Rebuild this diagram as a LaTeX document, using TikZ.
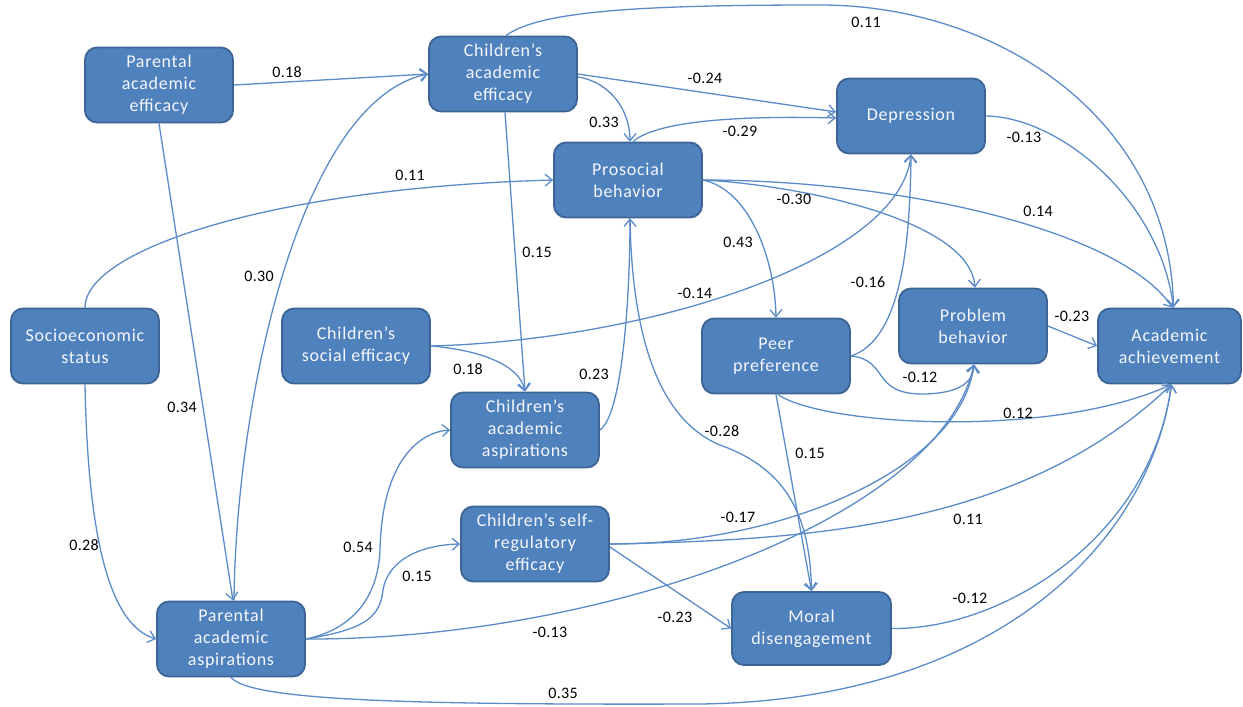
\documentclass[tikz,border=0pt]{standalone}
\usepackage{fontspec}
\setmainfont{Carlito}
\newfontfamily\boxfont[LetterSpace=4]{Carlito}
\newfontfamily\lblfont[LetterSpace=2]{Carlito}
\usetikzlibrary{arrows.meta}
\definecolor{boxfill}{HTML}{4F81BD}
\definecolor{boxline}{HTML}{3C6494}
\definecolor{edgecol}{HTML}{5B8CC8}
\definecolor{boxtext}{HTML}{F4F7FC}
\begin{document}
\begin{tikzpicture}[x=1pt,y=-1pt,
  box/.style={draw=boxline, line width=1.8pt, fill=boxfill, rounded corners=12pt,
    minimum width=148pt, minimum height=75pt, inner sep=0pt, align=center,
    text=boxtext, font=\boxfont\fontsize{18}{22}\selectfont},
  lbl/.style={font=\lblfont\fontsize{16}{18}\selectfont, text=black, inner sep=0pt},
  arr/.style={draw=edgecol, line width=1.3pt, -{Straight Barb[length=7pt,width=12pt]}}
]
\useasboundingbox[fill=white] (0,0) rectangle (1243,707);

% nodes
\node[box] (PAE) at (159,85) {Parental\\academic\\efficacy};
\node[box] (CAE) at (503,74) {Children’s\\academic\\efficacy};
\node[box] (PB)  at (628,180) {Prosocial\\behavior};
\node[box] (DEP) at (911,116) {Depression};
\node[box] (SES) at (85,346) {Socioeconomic\\status};
\node[box] (CSE) at (356,346) {Children’s\\social efficacy};
\node[box] (CAA) at (525,430) {Children’s\\academic\\aspirations};
\node[box] (PP)  at (776,356) {Peer\\preference};
\node[box] (PRB) at (973,326) {Problem\\behavior};
\node[box, minimum width=143pt] (AA) at (1169.5,346) {Academic\\achievement};
\node[box] (PAA) at (231,639) {Parental\\academic\\aspirations};
\node[box] (CSR) at (535,544) {Children’s self-\\regulatory\\efficacy};
\node[box, minimum width=159pt, minimum height=73pt] (MD) at (811.5,628.5) {Moral\\disengagement};

% edges
\draw[arr] (PAE.east) -- (CAE.west);
\draw[arr] (PAE.south) -- ([xshift=2pt]PAA.north);
\draw[arr] (SES.south) .. controls (88,540) and (110,625) .. (PAA.west);
\draw[arr] (SES.north) .. controls (85,250) and (270,188) .. (PB.west);
\draw[arr] ([xshift=3pt]PAA.north) .. controls (236,400) and (300,100) .. (CAE.west);
\draw[arr] ([xshift=3pt]CAE.north) .. controls (540,10) and (650,5) .. (820,5) .. controls (1000,5) and (1170,120) .. ([xshift=4pt]AA.north);
\draw[arr] (CAE.east) -- ([yshift=4pt]DEP.west);
\draw[arr] ([yshift=-3pt]CAE.east) .. controls (610,82) and (630,110) .. ([xshift=2pt]PB.north);
\draw[arr] ([xshift=5pt]PB.north) .. controls (660,118) and (760,116) .. ([yshift=-2pt]DEP.west);
\draw[arr] ([xshift=2pt]CAE.south) -- (CAA.north);
\draw[arr] (PB.east) .. controls (750,190) and (775,260) .. (PP.north);
\draw[arr] (PB.east) .. controls (800,185) and (970,220) .. ([xshift=2pt]PRB.north);
\draw[arr] (PB.east) .. controls (900,180) and (1120,230) .. ([xshift=3pt]AA.north);
\draw[arr] (DEP.east) .. controls (1060,117) and (1160,200) .. ([xshift=4pt]AA.north);
\draw[arr] (CSE.east) .. controls (650,340) and (900,260) .. (DEP.south);
\draw[arr] (CSE.east) .. controls (480,350) and (520,365) .. (CAA.north);
\draw[arr] (CAA.east) .. controls (622,415) and (630,300) .. ([xshift=2pt]PB.south);
\draw[arr] ([xshift=2pt]PB.south) .. controls (632,340) and (660,420) .. (720,445) .. controls (790,470) and (810,520) .. (MD.north);
\draw[arr] (PP.south) -- (MD.north);
\draw[arr] (PP.east) .. controls (900,340) and (910,250) .. (DEP.south);
\draw[arr] (PP.east) .. controls (890,360) and (870,395) .. (925,394) .. controls (960,393) and (973,382) .. ([xshift=1pt]PRB.south);
\draw[arr] ([xshift=2pt]PP.south) .. controls (820,425) and (1050,440) .. ([xshift=2pt]AA.south);
\draw[arr] (PRB.east) -- (AA.west);
\draw[arr] (CSR.east) .. controls (780,545) and (960,470) .. ([xshift=1pt]PRB.south);
\draw[arr] (CSR.east) .. controls (800,540) and (1020,530) .. ([xshift=2pt]AA.south);
\draw[arr] ([yshift=-3pt]CSR.east) -- (MD.west);
\draw[arr] (PAA.east) .. controls (350,630) and (378,600) .. (380,550) .. controls (382,460) and (420,432) .. (CAA.west);
\draw[arr] (PAA.east) .. controls (360,630) and (380,620) .. (383,590) .. controls (388,560) and (420,545) .. (CSR.west);
\draw[arr] (PAA.east) .. controls (600,640) and (940,520) .. ([xshift=1pt]PRB.south);
\draw[arr] (MD.east) .. controls (1000,630) and (1150,540) .. ([xshift=2pt]AA.south);
\draw[arr] (PAA.south) .. controls (250,700) and (400,705) .. (700,704) .. controls (1000,700) and (1150,540) .. ([xshift=2pt]AA.south);

% labels
\node[lbl] (l1)  at (287,72)  {0.18};
\node[lbl] (l2)  at (866,22)  {0.11};
\node[lbl] (l3)  at (705,78)  {-0.24};
\node[lbl] (l4)  at (604,122) {0.33};
\node[lbl] (l5)  at (740,131) {-0.29};
\node[lbl] (l6)  at (1024,137) {-0.13};
\node[lbl] (l7)  at (410,175) {0.11};
\node[lbl] (l8)  at (259,276) {0.30};
\node[lbl] (l9)  at (537,252) {0.15};
\node[lbl] (l10) at (738,242) {0.43};
\node[lbl] (l11) at (794,199) {-0.30};
\node[lbl] (l12) at (1038,211) {0.14};
\node[lbl] (l13) at (695,293) {-0.14};
\node[lbl] (l14) at (868,282) {-0.16};
\node[lbl] (l15) at (1072,316) {-0.23};
\node[lbl] (l16) at (182,407) {0.34};
\node[lbl] (l17) at (468,369) {0.18};
\node[lbl] (l18) at (594,374) {0.23};
\node[lbl] (l19) at (920,377) {-0.12};
\node[lbl] (l20) at (1018,413) {0.12};
\node[lbl] (l21) at (722,431) {-0.28};
\node[lbl] (l22) at (810,453) {0.15};
\node[lbl] (l23) at (358,547) {0.54};
\node[lbl] (l24) at (417,576) {0.15};
\node[lbl] (l25) at (738,517) {-0.17};
\node[lbl] (l26) at (968,519) {0.11};
\node[lbl] (l27) at (84,545)  {0.28};
\node[lbl] (l28) at (675,617) {-0.23};
\node[lbl] (l29) at (550,632) {-0.13};
\node[lbl] (l30) at (970,598) {-0.12};
\node[lbl] (l31) at (563,693) {0.35};
\end{tikzpicture}
\end{document}
